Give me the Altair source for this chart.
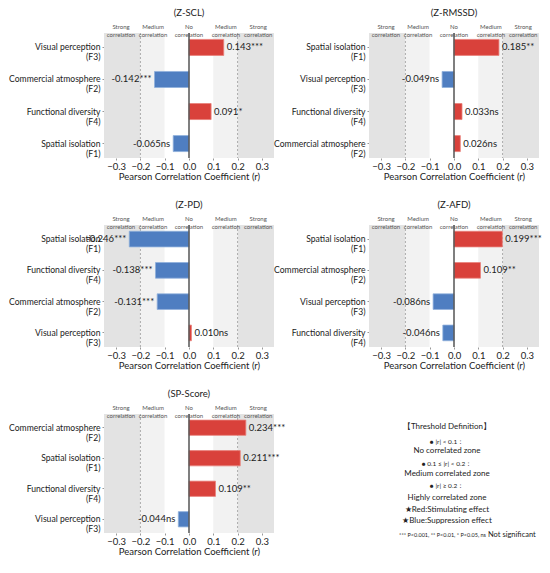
import altair as alt
import pandas as pd

FONT = "Lato"
RED = "#d9413b"
BLUE = "#4f7ec1"

# ---- data ----
t1 = "(Z-SCL)"
n1 = ["Visual perception", "Commercial atmosphere", "Functional diversity", "Spatial isolation"]
c1 = ["(F3)", "(F2)", "(F4)", "(F1)"]
v1 = [0.143, -0.142, 0.091, -0.065]
s1 = ["***", "***", "*", "ns"]

t2 = "(Z-RMSSD)"
n2 = ["Spatial isolation", "Visual perception", "Functional diversity", "Commercial atmosphere"]
c2 = ["(F1)", "(F3)", "(F4)", "(F2)"]
v2 = [0.185, -0.049, 0.033, 0.026]
s2 = ["**", "ns", "ns", "ns"]

t3 = "(Z-PD)"
n3 = ["Spatial isolation", "Functional diversity", "Commercial atmosphere", "Visual perception"]
c3 = ["(F1)", "(F4)", "(F2)", "(F3)"]
v3 = [-0.246, -0.138, -0.131, 0.010]
s3 = ["***", "***", "***", "ns"]

t4 = "(Z-AFD)"
n4 = ["Spatial isolation", "Commercial atmosphere", "Visual perception", "Functional diversity"]
c4 = ["(F1)", "(F2)", "(F3)", "(F4)"]
v4 = [0.199, 0.109, -0.086, -0.046]
s4 = ["***", "**", "ns", "ns"]

t5 = "(SP-Score)"
n5 = ["Commercial atmosphere", "Spatial isolation", "Functional diversity", "Visual perception"]
c5 = ["(F2)", "(F1)", "(F4)", "(F3)"]
v5 = [0.234, 0.211, 0.109, -0.044]
s5 = ["***", "***", "**", "ns"]

zone_start = [-0.35, -0.2, -0.1, 0.1, 0.2]
zone_end = [-0.2, -0.1, 0.1, 0.2, 0.35]
zone_kind = ["strong", "medium", "none", "medium", "strong"]
zone_label_x = [-0.28, -0.148, 0.0, 0.152, 0.285]
zone_labels = ["Strong\ncorrelation", "Medium\ncorrelation", "No\ncorrelation",
               "Medium\ncorrelation", "Strong\ncorrelation"]
dash_x = [-0.2, 0.2]
tick_vals = [-0.3, -0.2, -0.1, 0.0, 0.1, 0.2, 0.3]
x_domain = [-0.35, 0.35]

legend_lines = [
    "【Threshold Definition】",
    "● |r| < 0.1：",
    "No correlated zone",
    "● 0.1 ≤ |r| < 0.2：",
    "Medium correlated zone",
    "● |r| ≥ 0.2：",
    "Highly correlated zone",
    "★Red:Stimulating effect",
    "★Blue:Suppression effect",
]
legend_note_a = "*** P<0.001, ** P<0.01, * P<0.05, ns"
legend_note_b = "Not significant"

W = 170

zones_df = pd.DataFrame({"x": zone_start, "x2": zone_end, "kind": zone_kind})
zlab_df = pd.DataFrame({"x": zone_label_x, "t": zone_labels})
dash_df = pd.DataFrame({"x": dash_x})

xscale = alt.Scale(domain=x_domain, nice=False, zero=False)
xaxis = alt.Axis(values=tick_vals, format=".1f", title="Pearson Correlation Coefficient (r)",
                 titleFontSize=9.5, titleFontWeight="normal", titleFont=FONT,
                 titleColor="#222", labelFont=FONT, labelFontSize=9.5,
                 labelColor="#222", domain=False, tickSize=2, tickColor="#999",
                 labelPadding=1, titlePadding=1, grid=False,
                 labelOverlap=False, labelFlush=False)


def X(field):
    return alt.X(field, scale=xscale, axis=xaxis, title="Pearson Correlation Coefficient (r)")


def panel(title, names, codes, vals, sigs, H):
    cats = [f"{n}|{c}" for n, c in zip(names, codes)]
    df = pd.DataFrame({
        "cat": cats,
        "r": vals,
        "lab": [f"{v:.3f}{s}" for v, s in zip(vals, sigs)],
    })
    yaxis = alt.Axis(title=None, labelExpr="split(datum.label, '|')",
                     labelFontSize=8.6, labelLineHeight=10, labelColor="#222",
                     labelFont=FONT, domain=False, tickSize=2,
                     tickColor="#999", labelPadding=2, labelLimit=200)
    yscale = alt.Scale(paddingInner=0.5, paddingOuter=0.2)

    def Y():
        return alt.Y("cat:N", sort=cats, scale=yscale, axis=yaxis)

    zones = alt.Chart(zones_df).mark_rect().encode(
        x=X("x:Q"),
        x2="x2:Q",
        color=alt.Color("kind:N", scale=alt.Scale(domain=["strong", "medium", "none"],
                                                  range=["#e3e3e3", "#f2f2f2", "#ffffff"]),
                        legend=None),
    )
    dashes = alt.Chart(dash_df).mark_rule(color="#9a9a9a", strokeDash=[2, 2], strokeWidth=0.8).encode(
        x=X("x:Q")
    )
    base = alt.Chart(df)
    bars = base.mark_bar(strokeWidth=0.8).encode(
        x=X("r:Q"),
        y=Y(),
        color=alt.condition(alt.datum.r > 0, alt.value(RED), alt.value(BLUE)),
        stroke=alt.condition(alt.datum.r > 0, alt.value("#e8807a"), alt.value("#8fb0dc")),
    )
    zero = alt.Chart(pd.DataFrame({"x": [0.0]})).mark_rule(color="#555", strokeWidth=1.5).encode(
        x=X("x:Q")
    )
    pos = base.transform_filter("datum.r > 0").mark_text(
        align="left", dx=3, fontSize=9.5, font=FONT, color="#222", baseline="middle").encode(
        x=X("r:Q"), y=Y(), text="lab:N")
    neg = base.transform_filter("datum.r <= 0").mark_text(
        align="right", dx=-3, fontSize=9.5, font=FONT, color="#222", baseline="middle").encode(
        x=X("r:Q"), y=Y(), text="lab:N")
    zl = alt.Chart(zlab_df).mark_text(
        fontSize=6, font=FONT, color="#555", baseline="bottom", lineBreak="\n",
        lineHeight=7.5).encode(
        x=X("x:Q"), y=alt.value(-3), text="t:N")
    ttl = alt.Chart(pd.DataFrame({"t": [title]})).mark_text(
        fontSize=9.5, font=FONT, color="#222", baseline="middle").encode(
        x=alt.value(W / 2), y=alt.value(-20), text="t:N")
    return alt.layer(zones, dashes, bars, zero, pos, neg, zl, ttl).properties(width=W, height=H)


def legend_panel(H):
    base = alt.Chart(pd.DataFrame({"a": [0]}))
    ys = [13, 28, 37, 50, 60, 72, 84, 96, 107]
    sizes = [8, 6.5, 8, 6.5, 8, 6.5, 8, 8, 8]
    layers = []
    for txt, yy, fs in zip(legend_lines, ys, sizes):
        layers.append(base.mark_text(text=txt, fontSize=fs, font=FONT, color="#222",
                                     baseline="middle", align="center").encode(
            x=alt.value(78), y=alt.value(yy)))
    layers.append(base.mark_text(text=legend_note_a, fontSize=5.5, font=FONT, color="#222",
                                 baseline="middle", align="right").encode(
        x=alt.value(117), y=alt.value(121)))
    layers.append(base.mark_text(text=legend_note_b, fontSize=7.5, font=FONT, color="#222",
                                 baseline="middle", align="left").encode(
        x=alt.value(119), y=alt.value(121)))
    return alt.layer(*layers).properties(width=W, height=H)


p1 = panel(t1, n1, c1, v1, s1, 125)
p2 = panel(t2, n2, c2, v2, s2, 125)
p3 = panel(t3, n3, c3, v3, s3, 122)
p4 = panel(t4, n4, c4, v4, s4, 122)
p5 = panel(t5, n5, c5, v5, s5, 119)
p6 = legend_panel(119)

chart = alt.concat(p1, p2, p3, p4, p5, p6, columns=2,
                   spacing={"row": 67, "column": 95}).properties(
    bounds="flush", padding=0
).configure(font=FONT).configure_view(strokeWidth=0, stroke="transparent")

chart.save("out.html", embed_options={"renderer": "svg", "actions": False})
